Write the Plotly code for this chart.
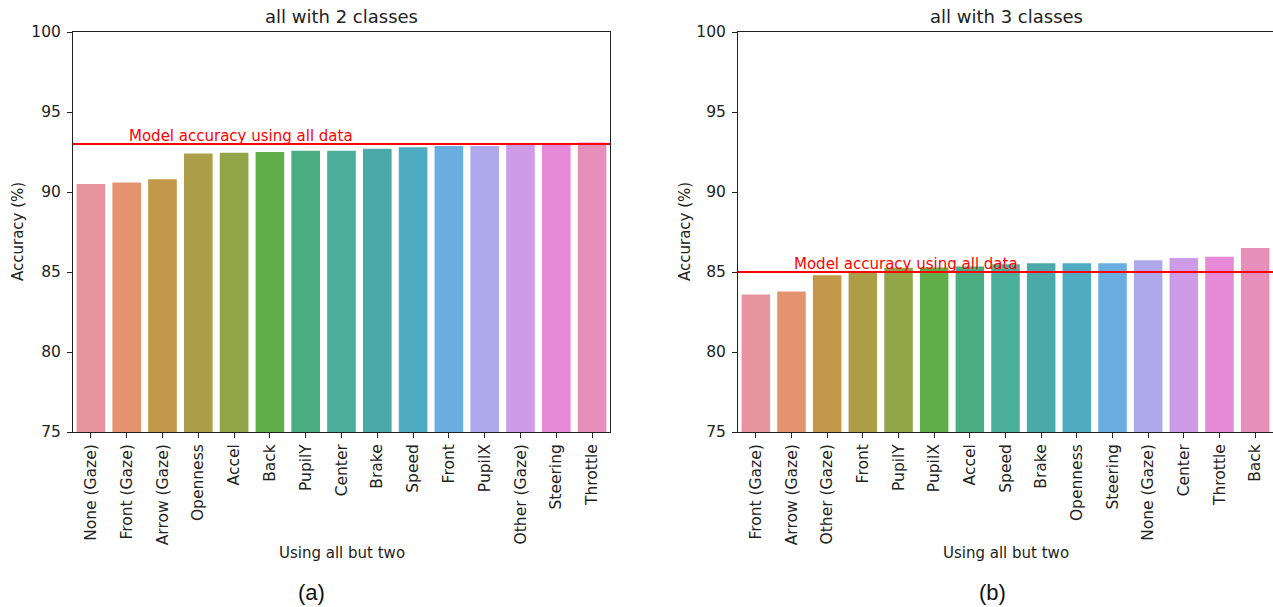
import plotly.graph_objects as go

# ---- data ----
cats_a = ["None (Gaze)", "Front (Gaze)", "Arrow (Gaze)", "Openness", "Accel", "Back",
          "PupilY", "Center", "Brake", "Speed", "Front", "PupilX", "Other (Gaze)",
          "Steering", "Throttle"]
vals_a = [90.5, 90.6, 90.8, 92.4, 92.45, 92.5, 92.58, 92.58, 92.71, 92.79, 92.87,
          92.87, 92.97, 93.0, 93.1]
ref_a = 93.0

cats_b = ["Front (Gaze)", "Arrow (Gaze)", "Other (Gaze)", "Front", "PupilY", "PupilX",
          "Accel", "Speed", "Brake", "Openness", "Steering", "None (Gaze)", "Center",
          "Throttle", "Back"]
vals_b = [83.6, 83.78, 84.8, 85.05, 85.27, 85.28, 85.35, 85.48, 85.54, 85.54, 85.54,
          85.73, 85.87, 85.96, 86.5]
ref_b = 85.0

palette = ["#E8949F", "#E4936F", "#C4984A", "#AC9D48", "#92A548", "#5FAE4A", "#4AAE82",
           "#4BAF9C", "#4BA9A9", "#4EABC2", "#6BADE0", "#ADA9EA", "#CE9BE6", "#E68AD8",
           "#E78FBB"]

titles = ["all with 2 classes", "all with 3 classes"]
panel_labels = ["(a)", "(b)"]
y_ticks = [75, 80, 85, 90, 95, 100]

W, H = 1273, 607
FONT = "DejaVu Sans"
TXT = "#222222"
FS_TICK = 15.5
FS = 15

fig = go.Figure()
fig.add_trace(go.Bar(x=cats_a, y=vals_a, marker=dict(color=palette, line=dict(width=0)),
                     xaxis="x", yaxis="y", showlegend=False))
fig.add_trace(go.Bar(x=cats_b, y=vals_b, marker=dict(color=palette, line=dict(width=0)),
                     xaxis="x2", yaxis="y2", showlegend=False))

ydom = [1 - 432 / H, 1 - 32 / H]
xdom_a = [73 / W, 610 / W]
xdom_b = [738 / W, 1.0]

axis_common = dict(showline=True, linecolor="#222222", linewidth=1, ticks="outside",
                   ticklen=5, tickcolor="#222222", showgrid=False, zeroline=False,
                   automargin=False,
                   tickfont=dict(family=FONT, size=FS_TICK, color=TXT))

fig.update_layout(
    width=W, height=H, margin=dict(l=0, r=0, t=0, b=0, autoexpand=False),
    paper_bgcolor="white", plot_bgcolor="white",
    bargap=0.2,
    font=dict(family=FONT, color=TXT),
    xaxis=dict(domain=xdom_a, anchor="y", type="category", tickangle=-90,
               range=[-0.5, 14.5], mirror=True, **axis_common),
    yaxis=dict(domain=ydom, anchor="x", range=[75, 100], tickvals=y_ticks,
               mirror=True, ticklabelstandoff=3, **axis_common),
    xaxis2=dict(domain=xdom_b, anchor="y2", type="category", tickangle=-90,
                range=[-0.5, 14.5], mirror=True, **axis_common),
    yaxis2=dict(domain=ydom, anchor="x2", range=[75, 100], tickvals=y_ticks,
                mirror=False, ticklabelstandoff=3, **axis_common),
)

shapes = []
annots = []
for i, (xa, ya, ref, cats) in enumerate([("x", "y", ref_a, cats_a), ("x2", "y2", ref_b, cats_b)]):
    dom = xdom_a if i == 0 else [738 / W, 1274 / W]
    cx = (dom[0] + dom[1]) / 2
    shapes.append(dict(type="line", xref=f"{xa} domain", yref=ya, x0=0, x1=1, y0=ref, y1=ref,
                       line=dict(color="red", width=2)))
    annots.append(dict(x=1, y=ref, xref=xa, yref=ya, text="Model accuracy using all data",
                       showarrow=False, xanchor="left", yanchor="bottom", yshift=-3,
                       font=dict(family=FONT, size=FS, color="red")))
    annots.append(dict(x=cx, y=1 - 17 / H, xref="paper", yref="paper", text=titles[i],
                       showarrow=False, xanchor="center", yanchor="middle",
                       font=dict(family=FONT, size=18, color=TXT)))
    annots.append(dict(x=cx, y=1 - 553 / H, xref="paper", yref="paper", text="Using all but two",
                       showarrow=False, xanchor="center", yanchor="middle",
                       font=dict(family=FONT, size=FS, color=TXT)))
    ytx = 18 if i == 0 else 685
    annots.append(dict(x=ytx / W, y=1 - 232 / H, xref="paper", yref="paper", text="Accuracy (%)",
                       textangle=-90, showarrow=False, xanchor="center", yanchor="middle",
                       font=dict(family=FONT, size=FS, color=TXT)))
    px = 311 if i == 0 else 992
    annots.append(dict(x=px / W, y=1 - 592 / H, xref="paper", yref="paper", text=panel_labels[i],
                       showarrow=False, xanchor="center", yanchor="middle",
                       font=dict(family="Liberation Sans", size=22, color="#111111")))

fig.update_layout(shapes=shapes, annotations=annots)
fig.write_html("out.html", config={"displayModeBar": False},
               post_script="document.body.style.margin='0';")
